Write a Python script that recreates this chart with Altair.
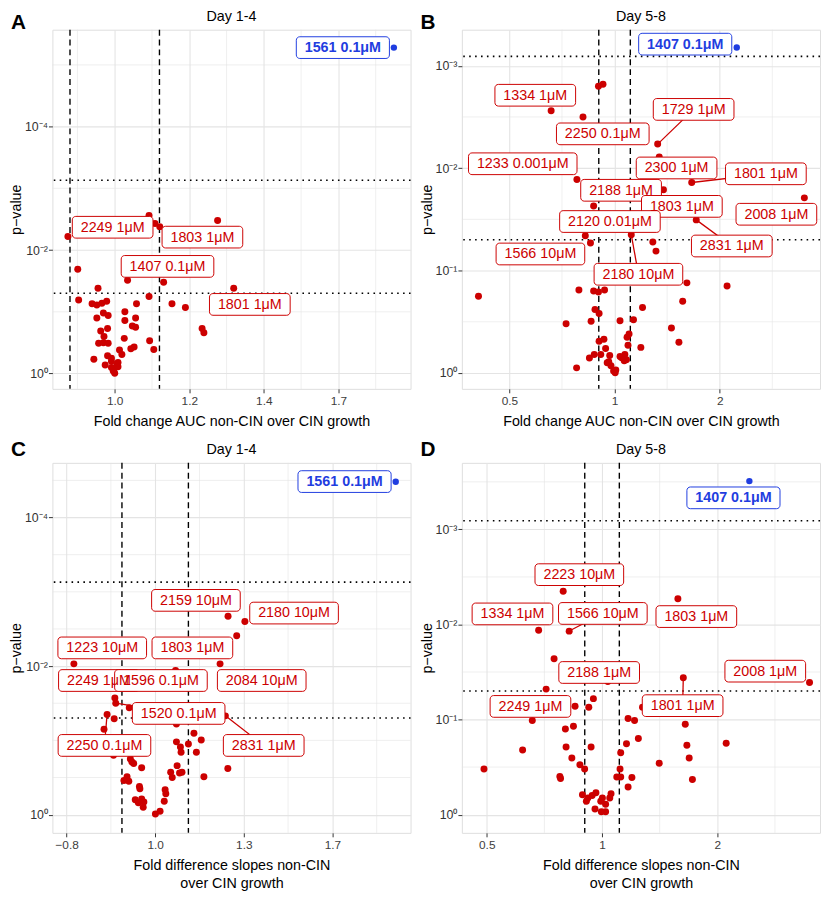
import altair as alt
import numpy as np
import pandas as pd

FONT = "Liberation Sans"
RED = "#cc0000"
BLUE = "#1f3de0"
GRID = "#e4e4e4"
BORDER = "#333333"

# ---------------- data (x = log2 fold change, y = -log10 p) ----------------
# Panel A  (Day 1-4, AUC)
A_lfc = [-0.157, 0.115, 0.135, 0.151, 0.345, -0.124, 0.043, 0.164, 0.399, -0.056,
         -0.121, 0.115, -0.076, -0.060, -0.043, -0.027, 0.073, 0.192, 0.237, -0.038,
         -0.022, -0.060, 0.034, 0.034, 0.070, 0.059, 0.070, -0.024, -0.047, -0.036,
         0.032, 0.117, 0.293, 0.299, -0.054, -0.038, -0.022, 0.065, 0.054, 0.131,
         0.016, 0.024, -0.024, -0.070, -0.011, -0.032, 0.008, 0.011, -0.002, 0.000,
         -0.011, -0.011, 0.011, -0.005]
A_nlp = [2.22, 2.56, 2.43, 2.38, 2.48, 1.69, 1.51, 1.48, 1.38, 1.38,
         1.19, 1.25, 1.13, 1.11, 1.14, 1.17, 1.13, 1.13, 1.07, 0.98,
         0.94, 0.90, 1.00, 0.86, 0.90, 0.77, 0.75, 0.73, 0.69, 0.60,
         0.57, 0.53, 0.73, 0.66, 0.49, 0.50, 0.49, 0.43, 0.40, 0.39,
         0.38, 0.31, 0.29, 0.23, 0.20, 0.14, 0.15, 0.11, 0.08, 0.005,
         0.10, 0.25, 0.18, 0.04]
A_hi = {"lfc": [0.936], "nlp": [5.28]}
A_lab = ["2249 1μM", "1803 1μM", "1407 0.1μM", "1801 1μM"]
A_lab_x = [-0.007, 0.294, 0.177, 0.453]
A_lab_y = [2.37, 2.21, 1.736, 1.12]
A_blue = {"text": ["1561 0.1μM"], "x": [0.765], "y": [5.28]}
A_seg = {"label": [], "lfc": [], "nlp": []}

# Panel B  (Day 5-8, AUC)
B_lfc = [-0.153, -0.110, -0.603, -0.300, 0.410, 0.425, -0.358, 0.465, 0.734, 1.805,
         -0.199, 0.777, -0.278, -0.229, 0.159, 0.364, 0.394, -1.294, -0.339, -0.199,
         -0.153, -0.095, 0.688, 1.070, 0.648, 0.266, -0.186, -0.147, -0.461, -0.223,
         0.052, 0.180, 0.541, 0.138, 0.119, -0.147, -0.101, 0.612, 0.128, 0.250,
         -0.085, -0.193, -0.239, -0.131, -0.046, 0.052, 0.098, -0.070, -0.034, -0.009,
         0.006, 0.092, 0.113, -0.361, 0.067, -0.055, 0.012]
B_nlp = [2.80, 2.82, 2.56, 2.50, 2.235, 2.11, 1.89, 1.79, 1.86, 1.71,
         1.63, 1.495, 1.34, 1.27, 1.35, 1.28, 1.19, 0.75, 0.81, 0.80,
         0.79, 0.81, 0.88, 0.85, 0.70, 0.64, 0.62, 0.58, 0.48, 0.505,
         0.51, 0.52, 0.44, 0.38, 0.35, 0.31, 0.33, 0.30, 0.27, 0.25,
         0.24, 0.18, 0.146, 0.18, 0.17, 0.16, 0.18, 0.10, 0.07, 0.02,
         0.003, 0.12, 0.13, 0.05, 0.15, 0.11, 0.03]
B_hi = {"lfc": [1.162], "nlp": [3.178]}
B_lab = ["1334 1μM", "1729 1μM", "2250 0.1μM", "1233 0.001μM", "2300 1μM", "1801 1μM",
         "2188 1μM", "1803 1μM", "2008 1μM", "2120 0.01μM", "2831 1μM", "1566 10μM",
         "2180 10μM"]
B_lab_x = [-0.754, 0.752, -0.112, -0.873, 0.590, 1.439, 0.062, 0.640, 1.539, -0.044,
           1.115, -0.705, 0.227]
B_lab_y = [2.712, 2.574, 2.335, 2.043, 2.002, 1.945, 1.784, 1.627, 1.550, 1.479,
           1.240, 1.162, 0.964]
B_blue = {"text": ["1407 0.1μM"], "x": [0.672], "y": [3.211]}
B_seg = {"label": ["1729 1μM", "1801 1μM", "2831 1μM", "2180 10μM"],
         "lfc": [0.410, 0.734, 0.777, 0.159], "nlp": [2.235, 1.86, 1.495, 1.352]}

# Panel C  (Day 1-4, slopes)
C_lfc = [0.329, 0.405, 0.368, -0.367, 0.293, 0.092, -0.182, -0.178, -0.117, -0.217,
         -0.185, 0.317, -0.231, 0.096, 0.175, 0.096, 0.208, 0.150, 0.114, 0.117,
         0.186, -0.188, -0.112, -0.097, -0.061, 0.099, 0.070, 0.121, 0.077, 0.220,
         0.328, -0.141, -0.119, -0.127, -0.071, -0.069, 0.045, 0.048, 0.041, -0.090,
         -0.061, -0.051, -0.054, -0.076, 0.001, 0.022, -0.105, 0.092, 0.110]
C_nlp = [2.67, 2.60, 2.41, 2.03, 2.03, 1.94, 1.57, 1.50, 1.44, 1.35,
         1.29, 1.33, 1.15, 1.22, 1.095, 0.98, 1.005, 0.95, 0.91, 0.84,
         0.84, 0.80, 0.75, 0.69, 0.63, 0.66, 0.57, 0.57, 0.50, 0.51,
         0.62, 0.46, 0.45, 0.51, 0.38, 0.35, 0.335, 0.28, 0.18, 0.20,
         0.21, 0.17, 0.10, 0.16, 0.01, 0.045, 0.71, 1.25, 0.56]
C_hi = {"lfc": [1.086], "nlp": [4.481]}
C_lab = ["2159 10μM", "2180 10μM", "1223 10μM", "1803 1μM", "2249 1μM", "1596 0.1μM",
         "2084 10μM", "1520 0.1μM", "2250 0.1μM", "2831 1μM"]
C_lab_x = [0.184, 0.627, -0.239, 0.168, -0.254, 0.026, 0.481, 0.106, -0.229, 0.490]
C_lab_y = [2.885, 2.714, 2.245, 2.245, 1.806, 1.806, 1.806, 1.363, 0.932, 0.932]
C_blue = {"text": ["1561 0.1μM"], "x": [0.855], "y": [4.484]}
C_seg = {"label": ["1520 0.1μM", "2250 0.1μM", "2831 1μM"],
         "lfc": [-0.178, -0.217, 0.317], "nlp": [1.50, 1.354, 1.331]}

# Panel D  (Day 5-8, slopes)
D_lfc = [-0.337, 0.658, -0.550, -0.285, -0.416, 1.800, 0.705, -0.485, -0.075, -0.234,
         -0.115, 0.351, -0.605, 0.722, 0.226, 0.282, -0.248, -0.318, 0.315, -0.689,
         -0.312, -0.095, 0.212, 0.736, 1.077, -0.262, 0.162, 0.756, -1.024, -0.192,
         -0.151, 0.156, 0.496, -0.366, -0.360, 0.128, 0.162, 0.259, 0.784, 0.226,
         -0.170, -0.123, -0.136, -0.086, -0.053, -0.011, 0.003, 0.031, 0.067, 0.078,
         -0.061, -0.006, 0.031, 0.050]
D_nlp = [2.35, 2.27, 1.94, 1.93, 1.64, 1.39, 1.44, 1.32, 1.22, 1.14,
         1.13, 1.13, 0.99, 0.95, 1.01, 0.99, 0.93, 0.90, 0.80, 0.68,
         0.71, 0.71, 0.745, 0.73, 0.75, 0.595, 0.65, 0.595, 0.48, 0.525,
         0.48, 0.48, 0.54, 0.40, 0.38, 0.395, 0.395, 0.39, 0.37, 0.29,
         0.21, 0.175, 0.14, 0.20, 0.23, 0.14, 0.175, 0.11, 0.175, 0.22,
         0.06, 0.03, 0.03, 1.40]
D_hi = {"lfc": [1.278], "nlp": [3.508]}
D_lab = ["2223 10μM", "1334 1μM", "1566 10μM", "1803 1μM", "2188 1μM", "2008 1μM",
         "2249 1μM", "1801 1μM"]
D_lab_x = [-0.197, -0.777, 0.007, 0.818, -0.025, 1.416, -0.621, 0.699]
D_lab_y = [2.524, 2.111, 2.116, 2.083, 1.495, 1.509, 1.138, 1.146]
D_blue = {"text": ["1407 0.1μM"], "x": [1.140], "y": [3.332]}
D_seg = {"label": ["1566 10μM", "1801 1μM"], "lfc": [-0.285, 0.705], "nlp": [1.931, 1.441]}

# thresholds
FC_CUT = [-0.15, 0.15]                  # log2 fold change cut-offs
P_CUT_D14 = [0.05, 0.00074]             # p-value cut-offs, Day 1-4
P_CUT_D58 = [0.05, 0.00081]             # p-value cut-offs, Day 5-8

# axes: ticks and labels
SUP = {"0": "⁰", "1": "¹", "2": "²", "3": "³", "4": "⁴", "5": "⁵"}
def p_lab(e):
    return "10" + ("⁰" if e == 0 else "⁻" + SUP[str(e)])

A_xmaj, A_xlab, A_xmin = [0, 0.25, 0.5, 0.75], ["1.0", "1.2", "1.4", "1.7"], [-0.125, 0.125, 0.375, 0.625, 0.875]
B_xmaj, B_xlab, B_xmin = [-1, 0, 1], ["0.5", "1", "2"], [-0.5, 0.5, 1.5]
C_xmaj, C_xlab, C_xmin = [-0.4, 0, 0.4, 0.8], ["−0.8", "1.0", "1.3", "1.7"], [-0.2, 0.2, 0.6, 1.0]
D_xmaj, D_xlab, D_xmin = [-1, 0, 1], ["0.5", "1", "2"], [-0.5, 0.5, 1.5]
A_ymaj, A_ymin = [0, 2, 4], [1, 3, 5]
B_ymaj, B_ymin = [0, 1, 2, 3], [0.5, 1.5, 2.5]
C_ymaj, C_ymin = [0, 2, 4], [0.5, 1, 1.5, 2.5, 3, 3.5, 4.5]
D_ymaj, D_ymin = [0, 1, 2, 3], [0.5, 1.5, 2.5, 3.5]

A_dom = ([-0.209, 0.992], [-0.248, 5.570])
B_dom = ([-1.452, 1.954], [-0.155, 3.352])
C_dom = ([-0.464, 1.153], [-0.245, 4.736])
D_dom = ([-1.216, 1.891], [-0.192, 3.700])

XT_AUC = "Fold change AUC non-CIN over CIN growth"
XT_SLOPE = ["Fold difference slopes non-CIN", "over CIN growth"]

W = 363
H_TOP = 364
H_BOT = 375
FS = 14.5
LAB_FS = 14.5

# text width estimate (Arial metrics, per 1000 em)
CW = {"0": 556, "1": 556, "2": 556, "3": 556, "4": 556, "5": 556, "6": 556, "7": 556,
      "8": 556, "9": 556, " ": 278, ".": 278, "μ": 576, "M": 833}
def box_w(t, bold=False):
    w = sum(CW.get(c, 556) for c in t)
    if bold:
        w += 35 * t.count("μ")
    return w / 1000 * LAB_FS + 17


def lab_expr(vals, labs):
    s = "''"
    for v, l in zip(reversed(vals), reversed(labs)):
        s = f"abs(datum.value - ({v})) < 1e-6 ? '{l}' : " + s
    return s


def panel(letter, title, pts_x, pts_y, hi, lab, lab_x, lab_y, blue, seg, dom,
          xmaj, xlab, xmin, ymaj, ymin, xtitle, pcut, height, tag_y):
    xs = alt.Scale(domain=dom[0], nice=False, zero=False)
    ys = alt.Scale(domain=dom[1], nice=False, zero=False)
    xax = alt.Axis(values=xmaj, labelExpr=lab_expr(xmaj, xlab), grid=True, gridColor=GRID,
                   gridWidth=1.1, domain=False, ticks=True, tickSize=4, tickColor=BORDER,
                   labelColor="#3d3d3d", labelFontSize=12, labelFont=FONT, labelPadding=2.5,
                   labelFlush=False, title=xtitle, titleFont=FONT, titleFontSize=FS,
                   titleFontWeight="normal", titleColor="black", titlePadding=9,
                   titleLineHeight=18)
    yax = alt.Axis(values=ymaj, labelExpr=lab_expr(ymaj, [p_lab(v) for v in ymaj]), grid=True,
                   gridColor=GRID, gridWidth=1.1, domain=False, ticks=True, tickSize=4,
                   tickColor=BORDER, labelColor="#333333", labelFontSize=12.5, labelFont=FONT,
                   labelPadding=1, title="p−value", titleFont=FONT, titleFontSize=FS,
                   titleFontWeight="normal", titleColor="black", titlePadding=1)
    X = lambda f="lfc": alt.X(f"{f}:Q", scale=xs, axis=xax)
    Y = lambda f="nlp": alt.Y(f"{f}:Q", scale=ys, axis=yax)

    vmin = alt.Chart(pd.DataFrame({"lfc": xmin})).mark_rule(color=GRID, strokeWidth=0.6).encode(x=X())
    hmin = alt.Chart(pd.DataFrame({"nlp": ymin})).mark_rule(color=GRID, strokeWidth=0.6).encode(y=Y())
    vcut = alt.Chart(pd.DataFrame({"lfc": FC_CUT})).mark_rule(
        color="black", strokeWidth=1.4, strokeDash=[6, 4]).encode(x=X())
    hcut = alt.Chart(pd.DataFrame({"nlp": -np.log10(pcut)})).mark_rule(
        color="black", strokeWidth=1.6, strokeDash=[1.6, 4.4]).encode(y=Y())
    pts = alt.Chart(pd.DataFrame({"lfc": pts_x, "nlp": pts_y})).mark_circle(
        size=50, color=RED, opacity=1).encode(x=X(), y=Y())
    hip = alt.Chart(pd.DataFrame(hi)).mark_circle(size=42, color=BLUE, opacity=1).encode(x=X(), y=Y())

    labdf = pd.DataFrame({"text": lab, "lfc": lab_x, "nlp": lab_y})
    labdf["bw"] = [box_w(t) for t in lab]
    bdf = pd.DataFrame({"text": blue["text"], "lfc": blue["x"], "nlp": blue["y"]})
    bdf["bw"] = [box_w(t, True) for t in blue["text"]]

    layers = [vmin, hmin, vcut, hcut, pts, hip]
    if seg["label"]:
        sdf = pd.DataFrame(seg)
        sdf = sdf.merge(labdf.rename(columns={"lfc": "lx", "nlp": "ly", "text": "label"}), on="label")
        layers.append(alt.Chart(sdf).mark_rule(color=RED, strokeWidth=1.3).encode(
            x=X(), y=Y(), x2="lx:Q", y2="ly:Q"))
    for df, col, wt in [(labdf, RED, "normal"), (bdf, BLUE, "bold")]:
        layers.append(alt.Chart(df).mark_rect(
            width=alt.ExprRef("datum.bw"), height=22, align="center", baseline="middle",
            fill="white", stroke=col, strokeWidth=1, cornerRadius=3.5).encode(x=X(), y=Y()))
        layers.append(alt.Chart(df).mark_text(
            font=FONT, fontSize=LAB_FS, fontWeight=wt, color=col, align="center",
            baseline="middle", dy=0.5).encode(x=X(), y=Y(), text="text:N"))
    # panel heading and panel tag
    head = alt.Chart(pd.DataFrame({"t": [title]})).mark_text(
        font=FONT, fontSize=FS, color="black", align="center", baseline="middle").encode(
        x=alt.value(W / 2), y=alt.value(-13), text="t:N")
    tag = alt.Chart(pd.DataFrame({"t": [letter]})).mark_text(
        font=FONT, fontSize=21, fontWeight="bold", color="black", align="left",
        baseline="alphabetic").encode(x=alt.value(-42), y=alt.value(tag_y), text="t:N")
    layers += [head, tag]
    return alt.layer(*layers).properties(width=W, height=height)


pA = panel("A", "Day 1-4", A_lfc, A_nlp, A_hi, A_lab, A_lab_x, A_lab_y, A_blue, A_seg, A_dom,
           A_xmaj, A_xlab, A_xmin, A_ymaj, A_ymin, XT_AUC, P_CUT_D14, H_TOP, -1)
pB = panel("B", "Day 5-8", B_lfc, B_nlp, B_hi, B_lab, B_lab_x, B_lab_y, B_blue, B_seg, B_dom,
           B_xmaj, B_xlab, B_xmin, B_ymaj, B_ymin, XT_AUC, P_CUT_D58, H_TOP, -1)
pC = panel("C", "Day 1-4", C_lfc, C_nlp, C_hi, C_lab, C_lab_x, C_lab_y, C_blue, C_seg, C_dom,
           C_xmaj, C_xlab, C_xmin, C_ymaj, C_ymin, XT_SLOPE, P_CUT_D14, H_BOT, -7)
pD = panel("D", "Day 5-8", D_lfc, D_nlp, D_hi, D_lab, D_lab_x, D_lab_y, D_blue, D_seg, D_dom,
           D_xmaj, D_xlab, D_xmin, D_ymaj, D_ymin, XT_SLOPE, P_CUT_D58, H_BOT, -7)

chart = alt.vconcat(
    alt.hconcat(pA, pB, spacing=6),
    alt.hconcat(pC, pD, spacing=6),
    spacing=9,
).properties(
    padding={"top": -6, "left": 0, "right": 0, "bottom": 0}
).configure_view(stroke=BORDER, strokeWidth=1).configure(font=FONT)

chart.save("out.html", embed_options={"renderer": "svg", "actions": False})
